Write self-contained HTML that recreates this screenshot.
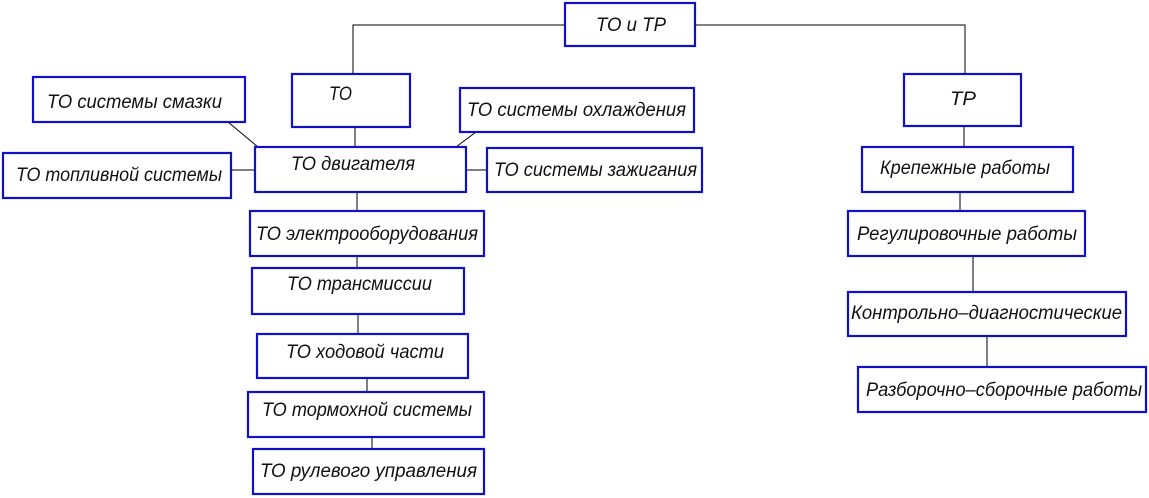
<!DOCTYPE html>
<html><head><meta charset="utf-8"><style>
html,body{margin:0;padding:0;background:#fff;}
svg{display:block}
text{font-family:"Liberation Sans",sans-serif;font-style:italic;font-size:19px;fill:#111;}
rect{fill:#fff;stroke:#1010c8;stroke-width:2.2}
line,polyline{stroke:#000;stroke-width:1;fill:none}
</style></head><body>
<svg width="1149" height="498" viewBox="0 0 1149 498">
<polyline points="565,25 353,25 353,74"/>
<polyline points="695,25 965,25 965,74"/>
<line x1="355" y1="127" x2="355" y2="147"/>
<line x1="228" y1="122" x2="258" y2="147"/>
<line x1="476" y1="132" x2="456" y2="147"/>
<line x1="231" y1="170" x2="255" y2="170"/>
<line x1="466" y1="170" x2="487" y2="170"/>
<line x1="357" y1="192" x2="357" y2="211"/>
<line x1="357" y1="256" x2="357" y2="268"/>
<line x1="358" y1="314" x2="358" y2="334"/>
<line x1="367" y1="378" x2="367" y2="392"/>
<line x1="372" y1="437" x2="372" y2="449"/>
<line x1="964" y1="126" x2="964" y2="147"/>
<line x1="960" y1="192" x2="960" y2="211"/>
<line x1="973" y1="256" x2="973" y2="292"/>
<line x1="987" y1="336" x2="987" y2="367"/>

<rect x="565" y="3" width="130" height="43"/><text x="596" y="31" textLength="70" lengthAdjust="spacingAndGlyphs">ТО и ТР</text>
<rect x="292" y="74" width="118" height="53"/><text x="329" y="100" textLength="23" lengthAdjust="spacingAndGlyphs">ТО</text>
<rect x="904" y="74" width="117" height="52"/><text x="950" y="105" textLength="26" lengthAdjust="spacingAndGlyphs">ТР</text>
<rect x="33" y="77" width="212" height="45"/><text x="47" y="108" textLength="175" lengthAdjust="spacingAndGlyphs">ТО системы смазки</text>
<rect x="460" y="88" width="234" height="44"/><text x="467" y="116" textLength="219" lengthAdjust="spacingAndGlyphs">ТО системы охлаждения</text>
<rect x="255" y="147" width="211" height="45"/><text x="291" y="170" textLength="124" lengthAdjust="spacingAndGlyphs">ТО двигателя</text>
<rect x="3" y="153" width="228" height="45"/><text x="16" y="181" textLength="206" lengthAdjust="spacingAndGlyphs">ТО топливной системы</text>
<rect x="487" y="148" width="215" height="44"/><text x="494" y="176" textLength="203" lengthAdjust="spacingAndGlyphs">ТО системы зажигания</text>
<rect x="250" y="211" width="234" height="45"/><text x="256" y="240" textLength="222" lengthAdjust="spacingAndGlyphs">ТО электрооборудования</text>
<rect x="252" y="268" width="212" height="46"/><text x="287" y="290" textLength="145" lengthAdjust="spacingAndGlyphs">ТО трансмиссии</text>
<rect x="257" y="334" width="211" height="44"/><text x="286" y="358" textLength="158" lengthAdjust="spacingAndGlyphs">ТО ходовой части</text>
<rect x="248" y="392" width="236" height="45"/><text x="262" y="416" textLength="210" lengthAdjust="spacingAndGlyphs">ТО тормохной системы</text>
<rect x="253" y="449" width="231" height="45"/><text x="260" y="477" textLength="217" lengthAdjust="spacingAndGlyphs">ТО рулевого управления</text>
<rect x="862" y="147" width="211" height="45"/><text x="880" y="174" textLength="170" lengthAdjust="spacingAndGlyphs">Крепежные работы</text>
<rect x="848" y="211" width="237" height="45"/><text x="857" y="240" textLength="220" lengthAdjust="spacingAndGlyphs">Регулировочные работы</text>
<rect x="848" y="292" width="278" height="44"/><text x="851" y="319" textLength="271" lengthAdjust="spacingAndGlyphs">Контрольно–диагностические</text>
<rect x="858" y="367" width="288" height="45"/><text x="866" y="396" textLength="276" lengthAdjust="spacingAndGlyphs">Разборочно–сборочные работы</text>
</svg>
</body></html>
